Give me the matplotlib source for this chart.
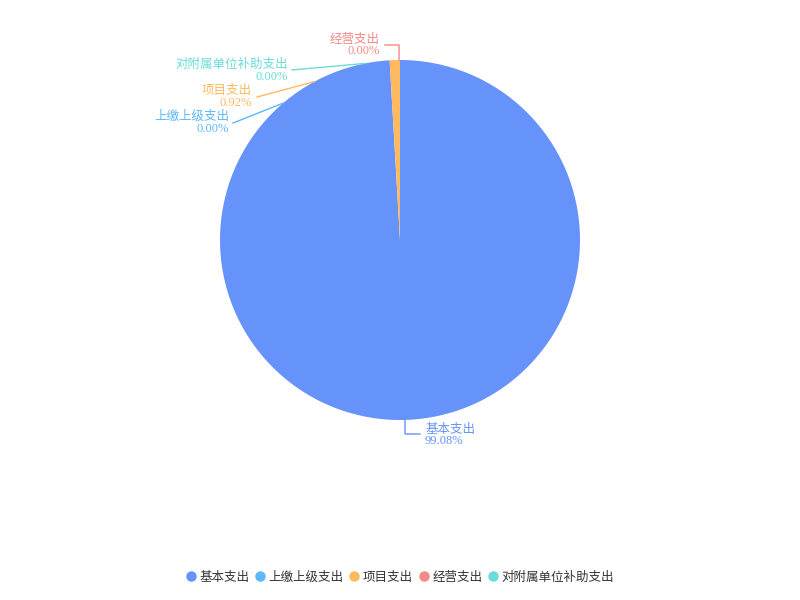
import numpy as np
import matplotlib.pyplot as plt
from matplotlib.lines import Line2D

plt.rcParams['font.family'] = ['Noto Sans CJK SC', 'DejaVu Sans']

labels = ['基本支出', '上缴上级支出', '项目支出', '经营支出', '对附属单位补助支出']
values = [99.08, 0.00, 0.92, 0.00, 0.00]
colors = ['#6593fa', '#5cb8f9', '#ffb95e', '#f38a86', '#6adcd9']

# label-line layout (pixel coords, y down): start angle clockwise from top, bend points, text anchor
label_angles = [178.4, 319.5, 331.7, 359.7, 348.8]
label_paths = [
    [(405, 434), (420, 434)],
    [(233, 123)],
    [(257, 97)],
    [(399, 45), (385, 45)],
    [(292, 70)],
]
text_pos = [(425, 'left'), (229, 'right'), (252, 'right'), (380, 'right'), (288, 'right')]
text_y = [429.5, 116.5, 90.5, 39.5, 64.5]

fig = plt.figure(figsize=(8, 6), dpi=100)
ax = fig.add_axes([0, 0, 1, 1])

cx, cy, r = 400, 360, 180
ax.pie(values, colors=colors, startangle=90, counterclock=False,
       center=(cx, cy), radius=r, wedgeprops=dict(linewidth=0), frame=True)
ax.set_xlim(0, 800)
ax.set_ylim(0, 600)
ax.set_aspect('equal')
ax.axis('off')

for i, name in enumerate(labels):
    a = np.deg2rad(label_angles[i])
    sx, sy = cx + r * np.sin(a), cy + r * np.cos(a)
    xs = [sx] + [p[0] for p in label_paths[i]]
    ys = [sy] + [600 - p[1] for p in label_paths[i]]
    ax.plot(xs, ys, color=colors[i], lw=1)
    tx, ha = text_pos[i]
    ax.text(tx, 600 - text_y[i], name, color=colors[i], fontsize=9, ha=ha, va='center')
    ax.text(tx, 600 - text_y[i] - 12, f'{values[i]:.2f}%', color=colors[i],
            fontsize=9, ha=ha, va='center', family=['Liberation Serif', 'DejaVu Serif'])

handles = [Line2D([], [], marker='o', ls='', color=c, markersize=6.5) for c in colors]
fig.legend(handles, labels, loc='center', bbox_to_anchor=(0.5, 1 - 577 / 600), ncol=5,
           frameon=False, handlelength=0.8, handletextpad=0.3, columnspacing=0.45,
           fontsize=9, labelcolor='#333333')

fig.savefig('out.png', dpi=100)
